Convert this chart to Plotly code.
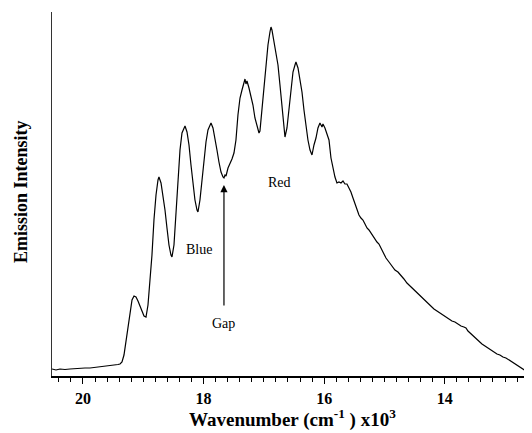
import plotly.graph_objects as go

# Wavenumber (x10^3 cm^-1)
wavenumber = [
    20.514, 20.448, 20.381, 20.299, 20.216, 20.133, 20.050, 19.967, 19.884, 19.801,
    19.718, 19.635, 19.552, 19.469, 19.420, 19.386, 19.353, 19.320, 19.287, 19.254,
    19.221, 19.187, 19.154, 19.121, 19.088, 19.055, 19.022, 18.988, 18.955, 18.922,
    18.889, 18.856, 18.823, 18.789, 18.756, 18.740, 18.706, 18.673, 18.640, 18.607,
    18.574, 18.541, 18.524, 18.491, 18.458, 18.425, 18.391, 18.358, 18.325, 18.308,
    18.275, 18.242, 18.209, 18.176, 18.143, 18.109, 18.093, 18.060, 18.027, 17.993,
    17.960, 17.927, 17.894, 17.877, 17.844, 17.811, 17.778, 17.745, 17.711, 17.678,
    17.662, 17.645, 17.628, 17.595, 17.562, 17.529, 17.496, 17.463, 17.430, 17.396,
    17.363, 17.330, 17.313, 17.297, 17.280, 17.247, 17.214, 17.181, 17.148, 17.114,
    17.081, 17.065, 17.032, 16.998, 16.965, 16.932, 16.899, 16.882, 16.866, 16.832,
    16.799, 16.766, 16.733, 16.700, 16.667, 16.650, 16.617, 16.584, 16.551, 16.517,
    16.484, 16.468, 16.434, 16.401, 16.368, 16.335, 16.302, 16.269, 16.235, 16.202,
    16.169, 16.136, 16.103, 16.070, 16.036, 16.020, 15.987, 15.954, 15.920, 15.887,
    15.854, 15.821, 15.788, 15.755, 15.721, 15.688, 15.655, 15.622, 15.589, 15.556,
    15.522, 15.489, 15.456, 15.423, 15.390, 15.357, 15.323, 15.290, 15.257, 15.224,
    15.191, 15.157, 15.124, 15.091, 15.058, 15.025, 14.975, 14.925, 14.876, 14.826,
    14.776, 14.726, 14.677, 14.627, 14.577, 14.527, 14.478, 14.428, 14.378, 14.328,
    14.279, 14.229, 14.179, 14.129, 14.080, 14.030, 13.980, 13.930, 13.881, 13.831,
    13.781, 13.731, 13.682, 13.648, 13.615, 13.582, 13.532, 13.482, 13.433, 13.383,
    13.333, 13.284, 13.234, 13.184, 13.134, 13.085, 13.035, 12.985, 12.935, 12.885,
    12.836, 12.786, 12.736, 12.686, 12.637, 12.587, 12.553,
]

# Emission intensity (arbitrary units)
intensity = [
    7, 6, 7, 6.5, 7, 7.5, 7.5, 8, 8, 8.5,
    9, 9.5, 10, 11, 11.5, 12, 14, 21, 36, 49,
    66, 76, 80, 79, 75, 70, 65, 60, 59, 71,
    96, 121, 156, 181, 196, 199, 193, 181, 166, 148,
    131, 121, 119, 131, 161, 196, 226, 243, 249, 250,
    244, 231, 211, 191, 176, 166, 164, 176, 196, 216,
    234, 246, 251, 253, 248, 238, 226, 214, 204, 199,
    198, 201, 200, 208, 212, 217, 223, 236, 261, 278,
    286, 294, 297, 292, 295, 288, 280, 271, 258, 249,
    243, 245, 266, 291, 314, 331, 344, 349, 346, 334,
    321, 311, 291, 268, 248, 239, 248, 268, 288, 304,
    311, 314, 308, 296, 284, 266, 249, 236, 226, 221,
    231, 238, 248, 253, 249, 252, 248, 241, 236, 218,
    208, 199, 193, 194, 193, 195, 192, 192, 188, 184,
    178, 172, 166, 161, 158, 156, 152, 148, 146, 143,
    140, 136, 134, 132, 128, 123, 118, 114, 110, 106,
    104, 101, 97, 93, 90, 87, 84, 81, 78, 76,
    73, 70, 67, 65, 63, 61, 59, 57, 55, 54,
    52, 50, 49, 48, 45, 43, 41, 38, 35, 32,
    30, 28, 26, 24, 22, 21, 19, 18, 16, 14,
    12, 10, 8, 6, 4, 2, 1,
]

x_ticks = [20, 18, 16, 14]
x_tick_labels = ["20", "18", "16", "14"]

SERIF = "Liberation Serif"

fig = go.Figure()
fig.add_trace(go.Scatter(
    x=wavenumber, y=intensity, mode="lines",
    line=dict(color="black", width=1.2),
    hoverinfo="skip", showlegend=False,
))

# the page body adds an 8px offset, so the figure is sized 8px smaller
fig.update_layout(
    width=524, height=425,
    margin=dict(l=44, r=0, t=4, b=57),
    paper_bgcolor="white", plot_bgcolor="white",
    showlegend=False,
    xaxis=dict(
        range=[20.514, 12.553], showgrid=False, zeroline=False,
        showline=True, linecolor="black", linewidth=1.5,
        tickmode="array", tickvals=x_ticks, ticktext=x_tick_labels,
        ticks="outside", ticklen=6, tickwidth=1.2, tickcolor="black",
        ticklabelstandoff=1,
        tickfont=dict(family=SERIF, size=16, color="black", weight="bold"),
        minor=dict(dtick=0.2, ticks="outside", ticklen=4, tickwidth=1, tickcolor="black", showgrid=False),
    ),
    yaxis=dict(
        range=[0, 364], showgrid=False, zeroline=False,
        showline=True, linecolor="#333333", linewidth=1.2,
        showticklabels=False, ticks="",
    ),
)

annotations = [
    dict(text="Wavenumber (cm<sup>-1</sup> ) x10<sup>3</sup>", x=0.5, y=0, xref="paper", yref="paper",
         xanchor="center", yanchor="middle", yshift=-42, showarrow=False,
         font=dict(family=SERIF, size=19, color="black", weight="bold")),
    dict(text="Emission Intensity", x=0, y=0.5055, xref="paper", yref="paper",
         xanchor="center", yanchor="middle", xshift=-31, textangle=-90, showarrow=False,
         font=dict(family=SERIF, size=18, color="black", weight="bold")),
    dict(text="Blue", x=18.076, y=127, xref="x", yref="y", showarrow=False,
         font=dict(family=SERIF, size=14, color="black")),
    dict(text="Red", x=16.733, y=194, xref="x", yref="y", showarrow=False,
         font=dict(family=SERIF, size=14, color="black")),
    dict(text="Gap", x=17.662, y=53, xref="x", yref="y", showarrow=False,
         font=dict(family=SERIF, size=14, color="black")),
    dict(text="", x=17.662, y=191, xref="x", yref="y",
         ax=17.662, ay=69, axref="x", ayref="y",
         showarrow=True, arrowhead=2, arrowsize=1.2, arrowwidth=1.2, arrowcolor="black"),
]
fig.update_layout(annotations=annotations)

fig.write_html("out.html")
